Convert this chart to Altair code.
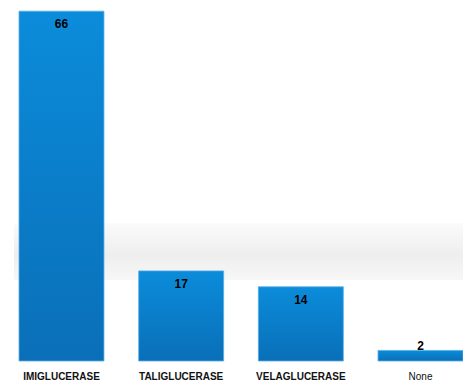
import altair as alt
import pandas as pd

categories = ["IMIGLUCERASE", "TALIGLUCERASE", "VELAGLUCERASE", "None"]
counts = [66, 17, 14, 2]

df = pd.DataFrame({"drug": categories, "count": counts})

W, H = 455, 353

xscale = alt.Scale(domain=categories, range=[11, 455], paddingInner=0.29, paddingOuter=0)
yscale = alt.Scale(domain=[0, 66.6], nice=False)

band = alt.Chart(pd.DataFrame({"k": [0]})).mark_rect(
    color=alt.Gradient(
        gradient="linear", x1=0, y1=0, x2=0, y2=1,
        stops=[
            alt.GradientStop(offset=0, color="#fbfbfb"),
            alt.GradientStop(offset=0.55, color="#eeeeee"),
            alt.GradientStop(offset=1, color="#f7f7f7"),
        ],
    )
).encode(x=alt.value(6), x2=alt.value(W), y=alt.value(215), y2=alt.value(272))

bars = alt.Chart(df).mark_bar(
    color=alt.Gradient(
        gradient="linear", x1=0, y1=0, x2=0, y2=1,
        stops=[
            alt.GradientStop(offset=0, color="#0b8cda"),
            alt.GradientStop(offset=1, color="#0a6fb8"),
        ],
    ),
    stroke="#55aee6",
    strokeWidth=0.8,
).encode(
    x=alt.X("drug:N", scale=xscale, sort=categories,
            axis=alt.Axis(title=None, domain=False, ticks=False, labelAngle=0,
                          labelFont="Liberation Sans", labelFontSize=10,
                          labelFontWeight=alt.condition(alt.datum.value == "None",
                                                        alt.value("normal"), alt.value("bold")),
                          labelColor="#111111", labelPadding=10)),
    y=alt.Y("count:Q", scale=yscale, axis=None),
)

labels_in = alt.Chart(df).transform_filter(alt.datum["count"] > 5).mark_text(
    font="Liberation Sans", fontSize=12, fontWeight="bold", color="#000000",
    baseline="middle", dy=13,
).encode(
    x=alt.X("drug:N", scale=xscale, sort=categories),
    y=alt.Y("count:Q", scale=yscale),
    text="count:Q",
)

labels_out = alt.Chart(df).transform_filter(alt.datum["count"] <= 5).mark_text(
    font="Liberation Sans", fontSize=12, fontWeight="bold", color="#000000",
    baseline="bottom", dy=3,
).encode(
    x=alt.X("drug:N", scale=xscale, sort=categories),
    y=alt.Y("count:Q", scale=yscale),
    text="count:Q",
)

chart = alt.layer(band, bars, labels_in, labels_out).properties(
    width=W, height=H,
    padding={"left": 0, "top": 0, "right": 0, "bottom": 23},
    autosize=alt.AutoSizeParams(type="none"),
).configure(background="white").configure_view(stroke=None)

chart.save("out.html", embed_options={"renderer": "svg", "actions": False})
